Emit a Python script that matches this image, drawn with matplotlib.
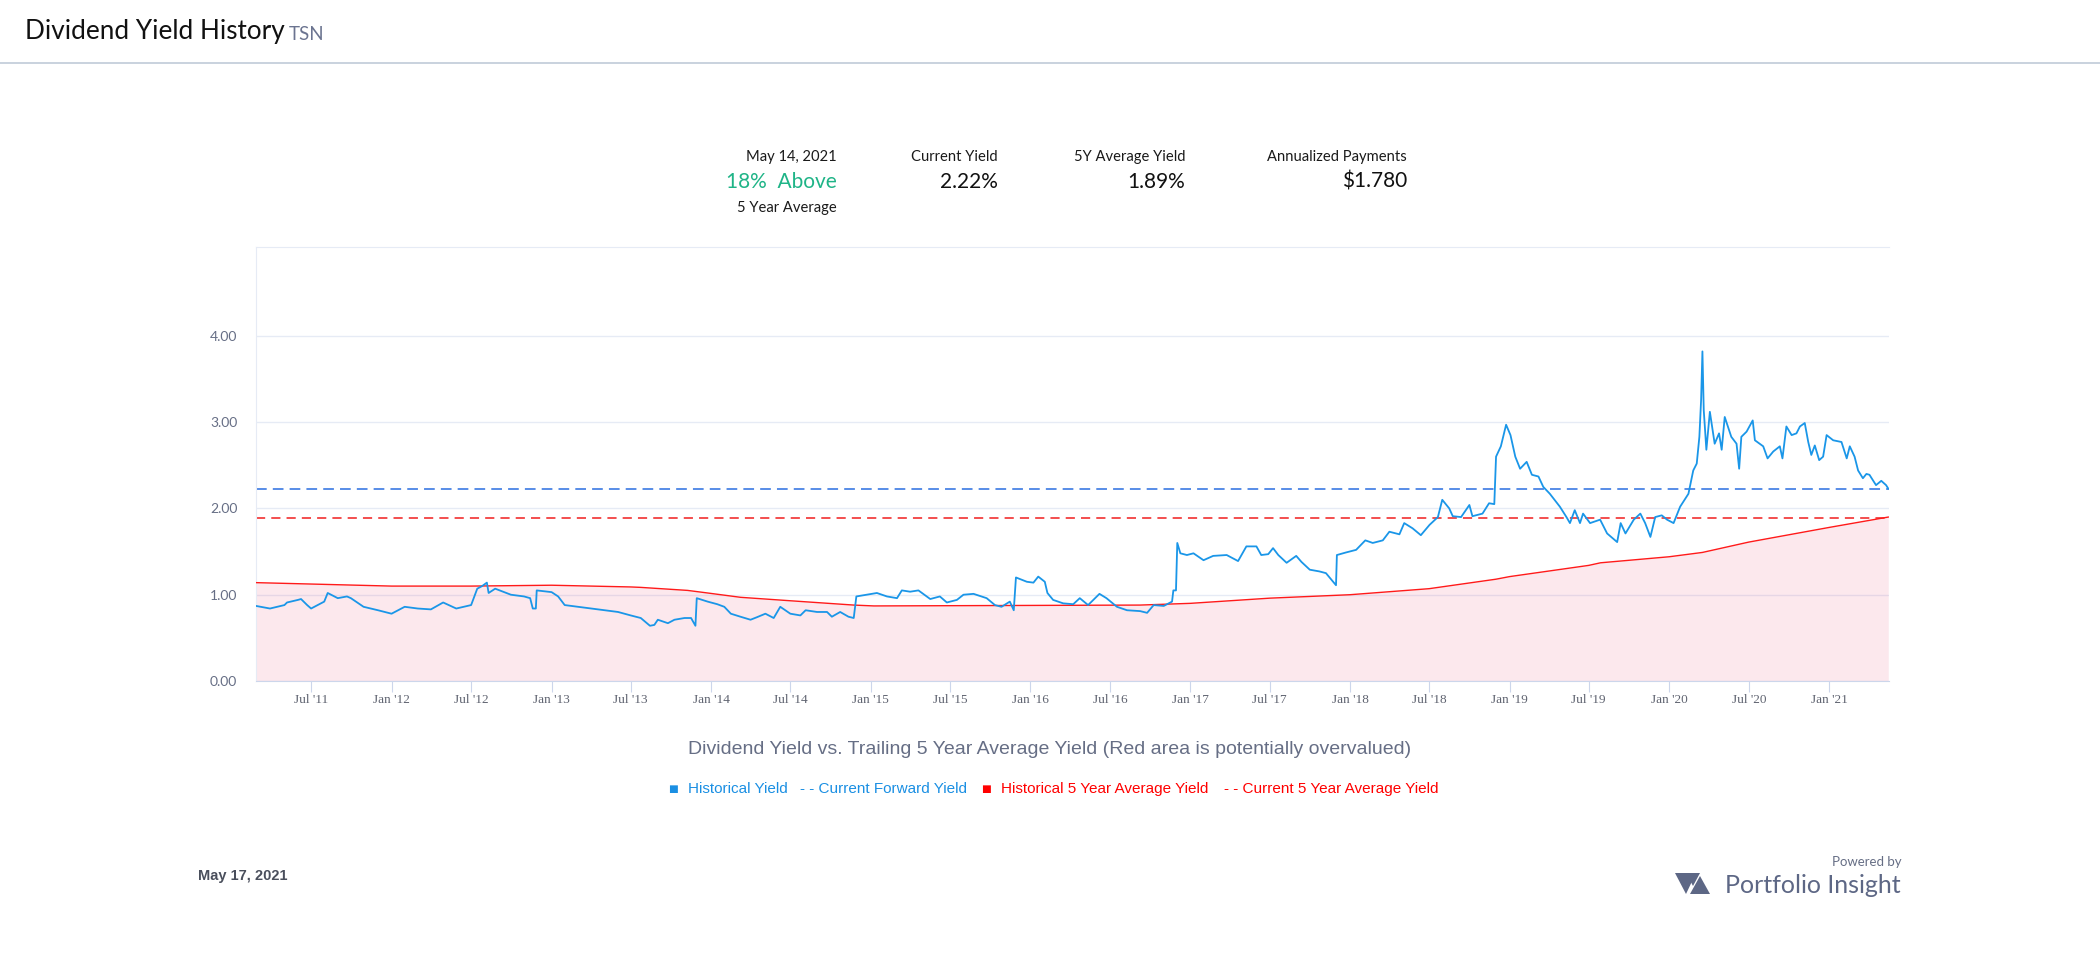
import matplotlib
matplotlib.use("Agg")
import matplotlib.pyplot as plt
import matplotlib.dates as mdates
import numpy as np
import pandas as pd
from matplotlib.lines import Line2D
from matplotlib.patches import Polygon

# historical dividend yield
yield_dates = [
    "2011-02-25", "2011-03-29", "2011-05-01", "2011-05-07", "2011-06-01", "2011-06-08", "2011-06-22",
    "2011-07-01", "2011-07-31", "2011-08-08", "2011-08-31", "2011-09-21", "2011-09-30", "2011-10-29",
    "2011-12-01", "2012-01-01", "2012-01-31", "2012-03-01", "2012-03-31", "2012-04-28", "2012-05-28",
    "2012-07-01", "2012-07-15", "2012-07-26", "2012-08-06", "2012-08-10", "2012-08-25", "2012-09-30",
    "2012-10-30", "2012-11-13", "2012-11-19", "2012-11-26", "2012-11-28", "2013-01-01", "2013-01-16",
    "2013-01-31", "2013-03-03", "2013-04-02", "2013-05-02", "2013-06-02", "2013-07-01", "2013-07-24",
    "2013-08-14", "2013-08-24", "2013-09-01", "2013-09-24", "2013-10-09", "2013-11-01", "2013-11-16",
    "2013-11-26", "2013-11-29", "2013-12-24", "2014-01-15", "2014-01-31", "2014-02-15", "2014-03-09",
    "2014-04-01", "2014-04-16", "2014-05-05", "2014-05-24", "2014-06-08", "2014-07-01", "2014-07-24",
    "2014-08-05", "2014-08-31", "2014-09-23", "2014-10-04", "2014-10-23", "2014-11-11", "2014-11-23",
    "2014-11-29", "2014-12-23", "2015-01-15", "2015-02-07", "2015-03-02", "2015-03-13", "2015-04-01",
    "2015-04-20", "2015-05-17", "2015-06-08", "2015-06-24", "2015-07-17", "2015-08-01", "2015-08-24",
    "2015-09-23", "2015-10-12", "2015-10-27", "2015-11-15", "2015-11-24", "2015-11-29", "2015-12-24",
    "2016-01-08", "2016-01-19", "2016-02-03", "2016-02-09", "2016-02-22", "2016-03-16", "2016-04-08",
    "2016-04-23", "2016-05-12", "2016-06-07", "2016-06-23", "2016-07-17", "2016-08-09", "2016-09-08",
    "2016-09-24", "2016-10-09", "2016-11-01", "2016-11-20", "2016-11-23", "2016-11-29", "2016-12-02",
    "2016-12-09", "2016-12-24", "2017-01-08", "2017-01-31", "2017-02-22", "2017-03-25", "2017-04-20",
    "2017-05-09", "2017-06-01", "2017-06-12", "2017-06-28", "2017-07-09", "2017-07-21", "2017-08-09",
    "2017-08-31", "2017-09-12", "2017-10-01", "2017-10-23", "2017-11-07", "2017-11-30", "2017-12-02",
    "2017-12-23", "2018-01-15", "2018-02-05", "2018-02-22", "2018-03-17", "2018-04-01", "2018-04-24",
    "2018-05-05", "2018-05-24", "2018-06-12", "2018-07-02", "2018-07-21", "2018-07-31", "2018-08-16",
    "2018-08-24", "2018-09-12", "2018-10-01", "2018-10-08", "2018-10-31", "2018-11-15", "2018-11-27",
    "2018-12-01", "2018-12-12", "2018-12-24", "2019-01-03", "2019-01-14", "2019-01-25", "2019-02-09",
    "2019-02-21", "2019-03-08", "2019-03-19", "2019-04-03", "2019-04-26", "2019-05-11", "2019-05-19",
    "2019-05-30", "2019-06-11", "2019-06-18", "2019-07-04", "2019-07-27", "2019-08-12", "2019-09-04",
    "2019-09-12", "2019-09-23", "2019-10-12", "2019-10-27", "2019-11-07", "2019-11-19", "2019-11-30",
    "2019-12-15", "2019-12-27", "2020-01-11", "2020-01-26", "2020-02-14", "2020-02-25", "2020-03-04",
    "2020-03-10", "2020-03-14", "2020-03-17", "2020-03-20", "2020-03-26", "2020-04-03", "2020-04-14",
    "2020-04-24", "2020-04-30", "2020-05-07", "2020-05-22", "2020-06-03", "2020-06-09", "2020-06-14",
    "2020-06-26", "2020-07-10", "2020-07-15", "2020-08-03", "2020-08-13", "2020-08-26", "2020-09-10",
    "2020-09-16", "2020-09-25", "2020-10-07", "2020-10-18", "2020-10-26", "2020-11-06", "2020-11-14",
    "2020-11-21", "2020-11-29", "2020-12-09", "2020-12-18", "2020-12-26", "2021-01-10", "2021-01-29",
    "2021-02-10", "2021-02-17", "2021-02-28", "2021-03-08", "2021-03-19", "2021-03-27", "2021-04-03",
    "2021-04-18", "2021-04-30", "2021-05-11", "2021-05-16",
]
yield_values = [
    0.87, 0.84, 0.88, 0.91, 0.94, 0.95, 0.88,
    0.84, 0.92, 1.02, 0.96, 0.98, 0.96, 0.86,
    0.82, 0.78, 0.86, 0.84, 0.83, 0.91, 0.84,
    0.88, 1.07, 1.10, 1.14, 1.02, 1.07, 1.00,
    0.98, 0.96, 0.84, 0.84, 1.05, 1.03, 0.98,
    0.88, 0.86, 0.84, 0.82, 0.80, 0.76, 0.73,
    0.64, 0.65, 0.71, 0.67, 0.71, 0.73, 0.73,
    0.64, 0.96, 0.92, 0.89, 0.86, 0.78, 0.745,
    0.71, 0.74, 0.78, 0.73, 0.86, 0.78, 0.76,
    0.82, 0.80, 0.80, 0.745, 0.80, 0.745, 0.73,
    0.98, 1.00, 1.02, 0.98, 0.96, 1.05, 1.035,
    1.05, 0.95, 0.98, 0.91, 0.94, 1.00, 1.01,
    0.96, 0.88, 0.86, 0.92, 0.82, 1.20, 1.15,
    1.14, 1.21, 1.15, 1.02, 0.94, 0.90, 0.89,
    0.96, 0.88, 1.01, 0.96, 0.86, 0.82, 0.81,
    0.79, 0.88, 0.87, 0.92, 1.05, 1.05, 1.60,
    1.48, 1.46, 1.48, 1.40, 1.45, 1.46, 1.39,
    1.56, 1.56, 1.46, 1.47, 1.54, 1.46, 1.37,
    1.45, 1.38, 1.29, 1.27, 1.25, 1.11, 1.46,
    1.49, 1.52, 1.63, 1.60, 1.63, 1.73, 1.70,
    1.83, 1.77, 1.69, 1.81, 1.90, 2.10, 2.00,
    1.91, 1.90, 2.04, 1.91, 1.94, 2.06, 2.05,
    2.60, 2.72, 2.97, 2.85, 2.60, 2.46, 2.54,
    2.39, 2.37, 2.25, 2.17, 2.02, 1.90, 1.83,
    1.98, 1.83, 1.94, 1.83, 1.87, 1.71, 1.61,
    1.83, 1.71, 1.87, 1.94, 1.83, 1.67, 1.90,
    1.92, 1.87, 1.83, 2.02, 2.17, 2.44, 2.52,
    2.83, 3.26, 3.82, 3.14, 2.68, 3.12, 2.75,
    2.87, 2.68, 3.06, 2.83, 2.75, 2.46, 2.83,
    2.89, 3.02, 2.79, 2.72, 2.58, 2.66, 2.72,
    2.58, 2.95, 2.85, 2.87, 2.95, 2.99, 2.77,
    2.62, 2.73, 2.56, 2.60, 2.85, 2.79, 2.77,
    2.58, 2.72, 2.60, 2.44, 2.35, 2.40, 2.39,
    2.27, 2.32, 2.27, 2.23,
]

# trailing 5 year average yield
avg_dates = [
    "2011-02-25", "2012-01-01", "2012-07-01", "2013-01-01", "2013-07-01", "2013-07-24", "2013-11-08",
    "2013-12-24", "2014-03-09", "2014-07-01", "2014-11-23", "2015-01-08", "2016-09-08", "2017-01-01",
    "2017-07-01", "2018-01-01", "2018-07-01", "2018-12-01", "2019-01-01", "2019-07-01", "2019-07-28",
    "2020-01-01", "2020-03-17", "2020-07-01", "2021-01-01", "2021-05-16",
]
avg_values = [
    1.14, 1.10, 1.10, 1.11, 1.09, 1.085, 1.05,
    1.02, 0.97, 0.93, 0.88, 0.87, 0.88, 0.90,
    0.96, 1.00, 1.07, 1.18, 1.21, 1.34, 1.37,
    1.44, 1.49, 1.61, 1.78, 1.90,
]

current_yield = 2.22
current_avg_yield = 1.89
x_start, x_end = "2011-02-25", "2021-05-17"
y_ticks = [0, 1, 2, 3, 4]

stats = [
    ("May 14, 2021", "18%  Above", "5 Year Average"),
    ("Current Yield", "2.22%", None),
    ("5Y Average Yield", "1.89%", None),
    ("Annualized Payments", "$1.780", None),
]

W, H = 2100, 963
GEO = ["Lato", "DejaVu Sans"]
ARIAL = ["Liberation Sans", "DejaVu Sans"]


def fx(px):
    return px / W


def fy(py):
    return 1 - py / H


fig = plt.figure(figsize=(W / 100, H / 100), dpi=100)
fig.patch.set_facecolor("white")

# header
fig.text(fx(25), fy(31), "Dividend Yield History", family=GEO, fontsize=18.8,
         color="#111111", va="center", ha="left")
fig.text(fx(289), fy(34), "TSN", family=GEO, fontsize=13.5, color="#6b7490",
         va="center", ha="left")
fig.add_artist(Line2D([0, 1], [fy(63), fy(63)], transform=fig.transFigure,
                      color="#c9d2de", lw=1.4))

# stats block
stat_right = [837, 998, 1185, 1407]
for (top, mid, bottom), xr in zip(stats, stat_right):
    fig.text(fx(xr), fy(157), top, family=GEO, fontsize=10.6, color="#1a1a1a",
             ha="right", va="center")
    mid_color = "#1fb487" if bottom else "#111111"
    fig.text(fx(xr), fy(182), mid, family=GEO, fontsize=15, color=mid_color,
             ha="right", va="center")
    if bottom:
        fig.text(fx(xr), fy(208), bottom, family=GEO, fontsize=10.6, color="#1a1a1a",
                 ha="right", va="center")

# chart
ax = fig.add_axes([fx(256), fy(681), fx(1888.7 - 256), (681 - 247) / H])
yd = pd.to_datetime(yield_dates)
ad = pd.to_datetime(avg_dates)

ax.fill_between(ad, avg_values, 0, color="#e8507a", alpha=0.13, lw=0, zorder=1)
ax.plot(ad, avg_values, color="#ff1a1a", lw=1.0, zorder=3)
ax.plot(yd, yield_values, color="#1a96e8", lw=1.3, zorder=4)
ax.axhline(current_yield, color="#2a6ee0", lw=1.1, dashes=(7, 4), zorder=2)
ax.axhline(current_avg_yield, color="#f01e1e", lw=1.1, dashes=(6, 4), zorder=2)

ax.set_xlim(pd.Timestamp(x_start), pd.Timestamp(x_end))
ax.set_ylim(0, 5.03)
ax.set_yticks(y_ticks)
ax.set_yticklabels([f"{v:.2f}" for v in y_ticks])
ax.yaxis.grid(True, color="#e6ebf5", lw=1.0)
ax.set_axisbelow(True)

ax.xaxis.set_major_locator(mdates.MonthLocator(bymonth=[1, 7]))
ax.xaxis.set_major_formatter(mdates.DateFormatter("%b '%y"))

for s in ["top", "left"]:
    ax.spines[s].set_color("#e6ebf5")
ax.spines["right"].set_visible(False)
ax.spines["bottom"].set_color("#ccd6eb")

ax.tick_params(axis="y", length=0, pad=13.5, labelsize=10, labelcolor="#666e85")
ax.tick_params(axis="x", length=8, width=0.8, color="#ccd6eb", pad=1.5,
               labelsize=9.5, labelcolor="#5f6370")
for lab in ax.get_yticklabels():
    lab.set_family(GEO)
for lab in ax.get_xticklabels():
    lab.set_family(["Liberation Serif", "DejaVu Serif"])

# caption and legend
fig.text(fx(1050), fy(750), "Dividend Yield vs. Trailing 5 Year Average Yield (Red area is potentially overvalued)",
         family=ARIAL, fontsize=14, color="#666e85", ha="center", va="center")

legend_items = [
    (668, "\u25a0", "#1a8fe3", 7.5),
    (688, "Historical Yield", "#1a8fe3", 11),
    (800, "- - Current Forward Yield", "#1a8fe3", 11),
    (981, "\u25a0", "#ff0000", 7.5),
    (1001, "Historical 5 Year Average Yield", "#ff0000", 11),
    (1224, "- - Current 5 Year Average Yield", "#ff0000", 11),
]
for xl, txt, col, size in legend_items:
    fam = ["DejaVu Sans"] if txt == "\u25a0" else ARIAL
    fig.text(fx(xl), fy(789), txt, family=fam, fontsize=size, color=col,
             ha="left", va="center")

# footer
fig.text(fx(198), fy(876), "May 17, 2021", family=ARIAL, fontsize=10.5,
         fontweight="bold", color="#4a4f5c", ha="left", va="center")
fig.text(fx(1902), fy(862), "Powered by", family=GEO, fontsize=9.5,
         color="#666e85", ha="right", va="center")
fig.text(fx(1901), fy(885), "Portfolio Insight", family=GEO, fontsize=18,
         color="#5d6785", ha="right", va="center")

logo_color = "#5d6785"
logo_parts = [
    [(1675, 873), (1696, 873), (1686, 894)],
    [(1690, 894), (1700, 876), (1710, 894)],
    [(1686, 873), (1700, 873), (1693, 886)],
]
for pts in logo_parts:
    fig.add_artist(Polygon([(fx(x), fy(y)) for x, y in pts], closed=True,
                           transform=fig.transFigure, color=logo_color, lw=0))

fig.savefig("out.png", dpi=100)
